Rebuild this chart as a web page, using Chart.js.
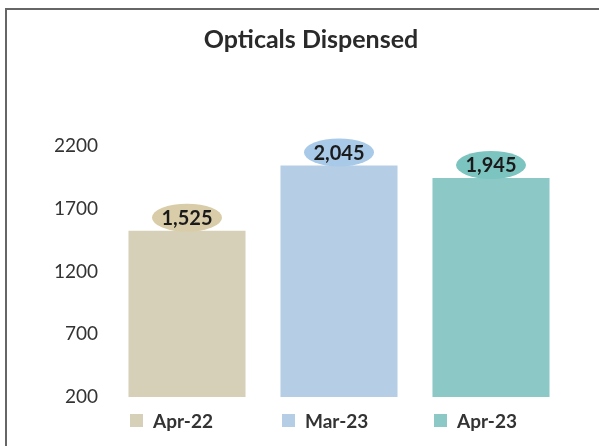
<!DOCTYPE html>
<html>
<head>
<meta charset="utf-8">
<script src="https://cdn.jsdelivr.net/npm/chart.js@4/dist/chart.umd.min.js"></script>
<style>
  html, body { margin: 0; padding: 0; background: #fff; overflow: hidden; }
  .wrap { position: relative; width: 599px; height: 446px; }
  .frame { position: absolute; left: 5px; top: 8px; width: 640px; height: 480px;
           border: 2px solid #666; box-sizing: border-box; pointer-events: none; }
  .legend { position: absolute; left: 0; top: 408px; height: 24px; width: 599px;
            font: bold 19px Lato, sans-serif; color: #333; }
  .legend span { position: absolute; top: 0; height: 24px; display: flex; align-items: center; white-space: nowrap; }
  .legend i { display: inline-block; width: 13px; height: 13px; margin-right: 10px; }
</style>
</head>
<body>
<div class="wrap">
  <canvas id="chart"></canvas>
  <div class="frame"></div>
  <div class="legend" id="legend"></div>
</div>
<script>
// data
const categories = ['Apr-22', 'Mar-23', 'Apr-23'];
const dispensed = [1525, 2045, 1945];
const yTicks = [200, 700, 1200, 1700, 2200];

const barColors = ['#d7d0b8', '#b5cee5', '#8bc8c6'];
const bubbleColors = ['#d9cca8', '#a9c9e8', '#7cc4c0'];

// oval value labels above each bar
const bubbleLabels = {
    id: 'bubbleLabels',
    afterDatasetsDraw(chart) {
        const ctx = chart.ctx;
        const meta = chart.getDatasetMeta(0);
        ctx.save();
        meta.data.forEach((bar, i) => {
            const cx = bar.x;
            const cy = bar.y - 13;
            ctx.beginPath();
            ctx.ellipse(cx, cy, 35, 14, 0, 0, Math.PI * 2);
            ctx.fillStyle = bubbleColors[i];
            ctx.fill();
            ctx.fillStyle = '#1b1b1b';
            ctx.font = 'bold 20px Lato, sans-serif';
            ctx.textAlign = 'center';
            ctx.textBaseline = 'middle';
            ctx.fillText(dispensed[i].toLocaleString('en-US'), cx, cy + 1);
        });
        ctx.restore();
    }
};

const chart = new Chart(document.getElementById('chart').getContext('2d'), {
    type: 'bar',
    data: {
        labels: categories,
        datasets: [{ label: 'Opticals Dispensed', data: dispensed, backgroundColor: barColors,
                     barPercentage: 0.77, categoryPercentage: 1 }]
    },
    options: {
        responsive: true,
        maintainAspectRatio: false,
        animation: false,
        layout: { padding: { left: 55, right: 32, bottom: 49, top: 0 } },
        plugins: {
            legend: { display: false },
            tooltip: { enabled: false },
            title: {
                display: true,
                text: 'Opticals Dispensed',
                color: '#2a2a2a',
                font: { family: 'Lato', size: 25, weight: 'bold' },
                padding: { top: 25, bottom: 91 }
            }
        },
        scales: {
            x: { display: false },
            y: {
                min: yTicks[0],
                max: yTicks[yTicks.length - 1],
                afterBuildTicks: axis => { axis.ticks = yTicks.map(v => ({ value: v })); },
                afterFit: axis => { axis.width = 56; },
                grid: { display: false, drawTicks: false },
                border: { display: false },
                ticks: { color: '#333', padding: 13, font: { family: 'Lato', size: 19 },
                         callback: v => String(v) }
            }
        }
    },
    plugins: [bubbleLabels]
});

// legend items sit under the left edge of each bar
const bars = chart.getDatasetMeta(0).data;
document.getElementById('legend').innerHTML = categories.map((c, i) => {
    const left = Math.round(bars[i].x - bars[i].width / 2) + 2;
    return `<span style="left:${left}px"><i style="background:${barColors[i]}"></i>${c}</span>`;
}).join('');
</script>
</body>
</html>
